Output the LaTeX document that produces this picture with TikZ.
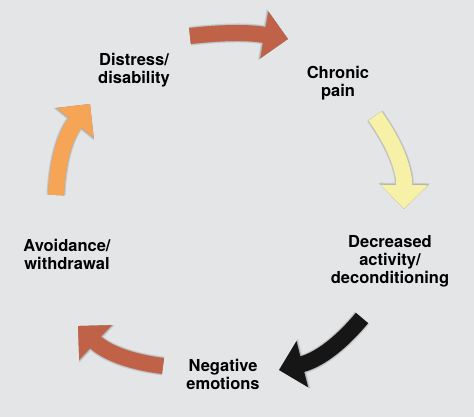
\documentclass[tikz,border=0pt]{standalone}
\usepackage{fontspec}
\setmainfont{TeX Gyre Heros}
\usetikzlibrary{arrows.meta}
\definecolor{bg}{RGB}{228,229,231}
\definecolor{terra}{RGB}{192,98,72}
\definecolor{paleyel}{RGB}{246,241,166}
\definecolor{orng}{RGB}{245,165,85}
\definecolor{blk}{RGB}{22,22,22}
\tikzset{
  lbl/.style={font=\fontsize{16.5}{18}\selectfont\bfseries, align=center, text=black, inner sep=0pt},
  shadA/.style={line width=19pt, draw=bg!88!black, -{Triangle[width=50pt,length=26pt]}},
  shadB/.style={line width=17pt, draw=bg!78!black, -{Triangle[width=48pt,length=25pt]}},
  shadC/.style={line width=15pt, draw=bg!64!black, -{Triangle[width=46pt,length=24pt]}},
  cyc/.style={line width=16pt, draw=#1, -{Triangle[width=46pt,length=24pt]}},
}
\newcommand\cycarrow[4]{%
  \begin{scope}[shift={(6pt,-7pt)}]
    \draw[shadA] (#1) to[bend left=#4] (#2);
  \end{scope}
  \begin{scope}[shift={(5pt,-6pt)}]
    \draw[shadB] (#1) to[bend left=#4] (#2);
  \end{scope}
  \begin{scope}[shift={(3.5pt,-4.5pt)}]
    \draw[shadC] (#1) to[bend left=#4] (#2);
  \end{scope}
  \draw[cyc=#3] (#1) to[bend left=#4] (#2);
}
\begin{document}
\begin{tikzpicture}[x=1pt,y=1pt]
  \fill[bg] (0,0) rectangle (474,417);
  \useasboundingbox (0,0) rectangle (474,417);
  % arrow end points
  \coordinate (t1) at (190,381); \coordinate (h1) at (288,378);
  \coordinate (t2) at (375,301); \coordinate (h2) at (404,208);
  \coordinate (t3) at (362,99);  \coordinate (h3) at (279,47);
  \coordinate (t4) at (163,51);  \coordinate (h4) at (78,91);
  \coordinate (t5) at (56,222);  \coordinate (h5) at (90,313);
  \cycarrow{t1}{h1}{terra}{8}
  \cycarrow{t2}{h2}{paleyel}{18}
  \cycarrow{t3}{h3}{blk}{18}
  \cycarrow{t4}{h4}{terra}{18}
  \cycarrow{t5}{h5}{orng}{18}
  % labels
  \node[lbl] (dis) at (134,347) {Distress/\\disability};
  \node[lbl] (chr) at (338,334) {Chronic\\pain};
  \node[lbl] (dec) at (390,156) {Decreased\\activity/\\deconditioning};
  \node[lbl] (neg) at (223,43) {Negative\\emotions};
  \node[lbl] (avo) at (67,163) {Avoidance/\\withdrawal};
\end{tikzpicture}
\end{document}
